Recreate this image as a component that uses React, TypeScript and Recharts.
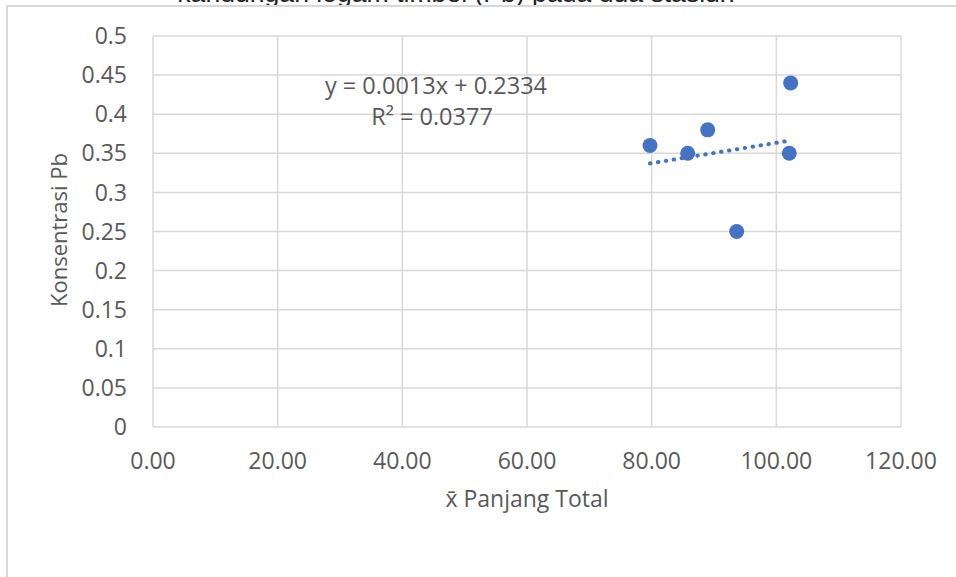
import React from "react";
import {
  ScatterChart,
  Scatter,
  XAxis,
  YAxis,
  CartesianGrid,
  ReferenceLine,
  Label,
} from "recharts";

// mean total length (x) vs Pb concentration (y)
const panjangTotal = [79.73, 85.78, 88.99, 93.64, 102.3, 102.08];
const konsentrasiPb = [0.36, 0.35, 0.38, 0.25, 0.44, 0.35];

const xTicks = [0, 20, 40, 60, 80, 100, 120];
const yTicks = [0, 0.05, 0.1, 0.15, 0.2, 0.25, 0.3, 0.35, 0.4, 0.45, 0.5];

// linear trendline as reported on the chart
const slope = 0.0013;
const intercept = 0.2334;
const equationText = "y = 0.0013x + 0.2334";
const r2Text = "R² = 0.0377";

const titleText = "kandungan logam timbel (Pb) pada dua stasiun";

const BLUE = "#4472C4";
const GRID = "#d9d9d9";
const TEXT = "#595959";
const FONT = "'Open Sans', sans-serif";

export default function App() {
  const data = panjangTotal.map((x, i) => ({ x, y: konsentrasiPb[i] }));
  const xMin = Math.min(...panjangTotal);
  const xMax = Math.max(...panjangTotal);
  const trend = [
    { x: xMin, y: slope * xMin + intercept },
    { x: xMax, y: slope * xMax + intercept },
  ];

  return (
    <div
      style={{
        position: "relative",
        width: 956,
        height: 577,
        overflow: "hidden",
        background: "#fff",
      }}
    >
      <style>{`body{margin:0}`}</style>
      {/* title sits above the chart frame and is mostly cut off */}
      <div
        style={{
          position: "absolute",
          left: 0,
          top: 0,
          width: 912,
          textAlign: "center",
          fontFamily: "'Liberation Sans', Arial, sans-serif",
          fontSize: 26.6,
          lineHeight: "26px",
          color: "#222",
          marginTop: -20,
        }}
      >
        {titleText}
      </div>
      <div
        style={{
          position: "absolute",
          left: 6,
          top: 5,
          width: 1000,
          height: 1000,
          borderLeft: `2px solid ${GRID}`,
          borderTop: `2px solid ${GRID}`,
          background: "#fff",
        }}
      />
      <div style={{ position: "absolute", left: 0, top: 0 }}>
        <ScatterChart
          width={956}
          height={577}
          margin={{ top: 36, right: 55, bottom: 90, left: 93 }}
        >
          <CartesianGrid stroke={GRID} strokeWidth={1.5} />
          <XAxis
            type="number"
            dataKey="x"
            domain={[0, 120]}
            ticks={xTicks}
            tickFormatter={(v: number) => v.toFixed(2)}
            axisLine={false}
            tickLine={false}
            tickSize={20}
            tickMargin={6}
            height={60}
            tick={{ fill: TEXT, fontSize: 23, fontFamily: FONT }}
            interval={0}
          >
            <Label
              content={() => (
                <text
                  x={527}
                  y={507}
                  textAnchor="middle"
                  fill={TEXT}
                  fontSize={23}
                  fontFamily={FONT}
                >
                  x̄ Panjang Total
                </text>
              )}
            />
          </XAxis>
          <YAxis
            type="number"
            dataKey="y"
            domain={[0, 0.5]}
            ticks={yTicks}
            axisLine={false}
            tickLine={false}
            tickSize={20}
            tickMargin={6}
            width={60}
            tick={{ fill: TEXT, fontSize: 23, fontFamily: FONT }}
            interval={0}
          >
            <Label
              content={() => (
                <text
                  x={67}
                  y={230}
                  textAnchor="middle"
                  fill={TEXT}
                  fontSize={22}
                  fontFamily={FONT}
                  transform="rotate(-90 67 230)"
                >
                  Konsentrasi Pb
                </text>
              )}
            />
          </YAxis>
          <ReferenceLine
            segment={trend}
            stroke={BLUE}
            strokeWidth={4}
            strokeDasharray="0.5 7.5"
            strokeLinecap="round"
            ifOverflow="visible"
          />
          <Scatter
            data={data}
            fill={BLUE}
            isAnimationActive={false}
            shape={(p: any) => (
              <circle cx={p.cx} cy={p.cy} r={7.5} fill={BLUE} />
            )}
          />
        </ScatterChart>
      </div>
      <svg
        width={956}
        height={577}
        style={{ position: "absolute", left: 0, top: 0, pointerEvents: "none" }}
      >
        <text
          x={436}
          y={94}
          textAnchor="middle"
          fill={TEXT}
          fontSize={23.5}
          fontFamily={FONT}
        >
          {equationText}
        </text>
        <text
          x={432}
          y={125}
          textAnchor="middle"
          fill={TEXT}
          fontSize={23.5}
          fontFamily={FONT}
        >
          {r2Text}
        </text>
      </svg>
    </div>
  );
}
